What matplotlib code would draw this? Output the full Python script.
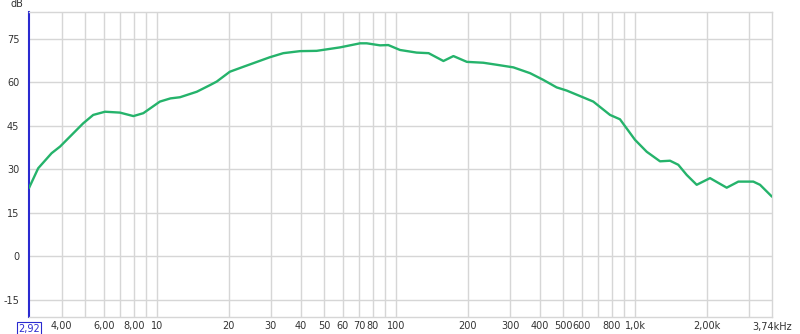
import numpy as np
import matplotlib
matplotlib.use("Agg")
import matplotlib.pyplot as plt

# Respuesta en frecuencia
freq = [2.92, 3.19, 3.63, 3.94, 4.33, 4.92, 5.42, 6.07, 7.01, 7.98, 8.78,
        10.3, 11.4, 12.5, 14.7, 16.7, 17.8, 20.2, 23.0, 29.7, 33.8, 39.7,
        46.6, 58.4, 70.8, 75.5, 85.8, 92.9, 104, 122, 137, 158, 174, 198,
        232, 264, 310, 364, 413, 470, 518, 589, 669, 786, 865, 1000, 1119,
        1272, 1401, 1517, 1645, 1811, 2059, 2418, 2705, 3124, 3333, 3740]
db = [23.6, 30.4, 35.6, 37.9, 41.3, 45.9, 48.8, 49.9, 49.6, 48.4, 49.4,
      53.4, 54.5, 54.9, 56.8, 59.1, 60.3, 63.7, 65.4, 68.7, 70.1, 70.8,
      70.9, 72.1, 73.5, 73.5, 72.8, 72.9, 71.2, 70.3, 70.1, 67.4, 69.1, 67.1,
      66.8, 66.1, 65.2, 63.2, 60.9, 58.3, 57.2, 55.3, 53.4, 48.8, 47.3, 40.2,
      36.1, 32.8, 33.0, 31.6, 28.1, 24.7, 27.0, 23.7, 25.8, 25.8, 24.7, 20.6]

y_ticks = [-15, 0, 15, 30, 45, 60, 75]
x_grid = [4, 5, 6, 7, 8, 9, 10, 20, 30, 40, 50, 60, 70, 80, 90, 100,
          200, 300, 400, 500, 600, 700, 800, 900, 1000, 2000, 3000]
x_ticks = [4, 6, 8, 10, 20, 30, 40, 50, 60, 70, 80, 100, 200, 300, 400,
           500, 600, 800, 1000, 2000]
x_labels = ["4,00", "6,00", "8,00", "10", "20", "30", "40", "50", "60", "70",
            "80", "100", "200", "300", "400", "500", "600", "800", "1,0k", "2,00k"]
f_min, f_max = 2.92, 3740

fig = plt.figure(figsize=(8, 3.34), dpi=100)
ax = fig.add_axes([29/800, 1 - 317/334, 743/800, 305/334])
ax.set_xscale("log")
ax.set_xlim(f_min, f_max)
ax.set_ylim(-20.9, 84.3)

grid_color = "#d6d6d6"
for f in x_grid:
    ax.axvline(f, color=grid_color, lw=1, zorder=0)
for v in y_ticks:
    ax.axhline(v, color=grid_color, lw=1, zorder=0)

ax.plot(freq, db, color="#25b36b", lw=1.7, zorder=3,
        solid_joinstyle="round", solid_capstyle="round")

for s in ["top", "right", "bottom"]:
    ax.spines[s].set_color(grid_color)
    ax.spines[s].set_linewidth(1)
ax.spines["left"].set_color("#2a2ad0")
ax.spines["left"].set_linewidth(1.5)

ax.set_yticks(y_ticks)
ax.set_yticklabels([str(v) for v in y_ticks])
ax.set_xticks(x_ticks)
ax.set_xticklabels(x_labels)
ax.minorticks_off()
ax.tick_params(axis="both", length=0, labelsize=7, colors="#333333")
ax.tick_params(axis="x", pad=3)
ax.tick_params(axis="y", pad=7)

ax.text(-0.007, 1.01, "dB", transform=ax.transAxes, ha="right", va="bottom",
        fontsize=7, color="#333333")
ax.text(f_min, -0.022, "2,92", transform=ax.get_xaxis_transform(), ha="center",
        va="top", fontsize=7, color="#2a2ad0",
        bbox=dict(boxstyle="square,pad=0.15", fc="white", ec="#2a2ad0", lw=0.8))
ax.text(f_max, -0.018, "3,74kHz", transform=ax.get_xaxis_transform(), ha="center",
        va="top", fontsize=7, color="#333333")

fig.savefig("out.png", dpi=100)
